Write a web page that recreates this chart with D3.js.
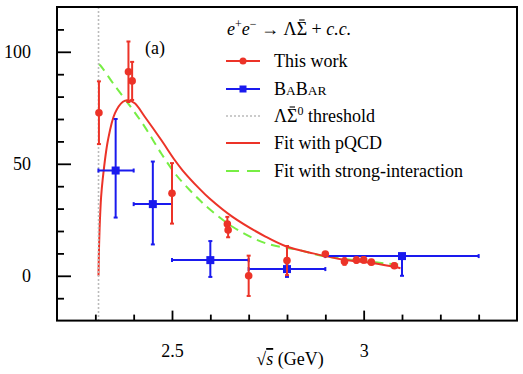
<!DOCTYPE html>
<html>
<head>
<meta charset="utf-8">
<script src="https://cdn.jsdelivr.net/npm/d3@7"></script>
<style>
  body { margin: 0; background: #fff; }
  text { font-family: "Liberation Serif", "DejaVu Serif", serif; fill: #000; }
</style>
</head>
<body>
<svg id="chart" width="523" height="374"></svg>
<script>
// measured points, "This work"
var workX = [2.3094, 2.3864, 2.3960, 2.5000, 2.6444, 2.6464, 2.7000, 2.8000, 2.9000, 2.9500, 2.9810, 3.0000, 3.0200, 3.0800];
var workY = [72.8, 91.1, 87.0, 36.8, 23.1, 20.4, 0.0, 6.8, 9.7, 6.4, 7.0, 7.1, 6.1, 4.5];
var workErr = [14, 13.5, 8.5, 13.5, 3.2, 3.2, 9, 6.5, 0.8, 1.5, 1.2, 1.2, 1.0, 1.0];

// BaBar points with bins
var babarX = [2.353, 2.45, 2.6, 2.8, 3.1];
var babarLo = [2.308, 2.4, 2.5, 2.7, 2.9];
var babarHi = [2.4, 2.5, 2.7, 2.9, 3.3];
var babarY = [47, 32, 7, 3, 8.8];
var babarErrDown = [21, 18, 7.5, 3.5, 8.8];
var babarErrUp = [23, 19, 8.5, 2.5, 0.5];

// fit curves
var pqcdX = [2.3083, 2.309, 2.310, 2.312, 2.315, 2.319, 2.333, 2.351, 2.372, 2.385, 2.403, 2.429, 2.472, 2.507, 2.528, 2.572, 2.598, 2.658, 2.745, 2.797, 2.868, 2.944, 3.031, 3.079, 3.096];
var pqcdY = [0, 8, 15, 25, 35, 42.7, 60.6, 72.5, 77.7, 78.4, 77, 71, 60.6, 51.7, 47, 38.8, 34.5, 26.3, 17.4, 13.2, 10, 7.3, 5.5, 4.0, 3.4];
var strongX = [2.3083, 2.312, 2.351, 2.394, 2.429, 2.472, 2.511, 2.546, 2.572, 2.593, 2.658, 2.745, 2.832, 2.884, 2.944, 3.031, 3.09];
var strongY = [94.5, 94.1, 84.8, 75, 66.5, 54.6, 45, 38.3, 33.8, 30.5, 21.9, 14.5, 11.5, 9.2, 7.6, 6.0, 5.0];

var threshold = 2.3083;
var xMajor = [2.5, 3];
var xMinor = [2.3, 2.4, 2.6, 2.7, 2.8, 2.9, 3.1, 3.2, 3.3];
var yMajor = [0, 50, 100];
var yMinor = [-10, 10, 20, 30, 40, 60, 70, 80, 90, 110];

var red = "#ec3328", blue = "#1a1aee", green = "#77ee44";

var svg = d3.select("#chart");
var x = d3.scaleLinear().domain([2.2, 3.4]).range([57, 517]);
var y = d3.scaleLinear().domain([-20, 120]).range([320.6, 7]);

var line = d3.line().x(d => x(d[0])).y(d => y(d[1])).curve(d3.curveCatmullRom.alpha(0.5));

// fit curves
svg.append("path")
  .attr("d", line(strongX.map((v, i) => [v, strongY[i]])))
  .attr("fill", "none").attr("stroke", green).attr("stroke-width", 2)
  .attr("stroke-dasharray", "9,6");
svg.append("path")
  .attr("d", line(pqcdX.map((v, i) => [v, pqcdY[i]])))
  .attr("fill", "none").attr("stroke", red).attr("stroke-width", 2);

// threshold
svg.append("line")
  .attr("x1", x(threshold)).attr("x2", x(threshold))
  .attr("y1", y(120)).attr("y2", y(-20))
  .attr("stroke", "#bbb").attr("stroke-width", 1.6).attr("stroke-dasharray", "2,2");

// BaBar
var bb = svg.append("g");
babarX.forEach(function(v, i) {
  var g = bb.append("g").attr("stroke", blue).attr("stroke-width", 2);
  g.append("line").attr("x1", x(babarLo[i])).attr("x2", x(babarHi[i])).attr("y1", y(babarY[i])).attr("y2", y(babarY[i]));
  g.append("line").attr("x1", x(v)).attr("x2", x(v)).attr("y1", y(babarY[i] - babarErrDown[i])).attr("y2", y(babarY[i] + babarErrUp[i]));
  [babarLo[i], babarHi[i]].forEach(function(e) {
    g.append("line").attr("x1", x(e)).attr("x2", x(e)).attr("y1", y(babarY[i]) - 2).attr("y2", y(babarY[i]) + 2);
  });
  [babarY[i] - babarErrDown[i], babarY[i] + babarErrUp[i]].forEach(function(e) {
    g.append("line").attr("x1", x(v) - 2).attr("x2", x(v) + 2).attr("y1", y(e)).attr("y2", y(e));
  });
  bb.append("rect").attr("x", x(v) - 4).attr("y", y(babarY[i]) - 4)
    .attr("width", 8).attr("height", 8).attr("fill", blue);
});

// This work
var tw = svg.append("g");
workX.forEach(function(v, i) {
  var g = tw.append("g").attr("stroke", red).attr("stroke-width", 2);
  g.append("line").attr("x1", x(v)).attr("x2", x(v))
    .attr("y1", y(workY[i] - workErr[i])).attr("y2", y(workY[i] + workErr[i]));
  [workY[i] - workErr[i], workY[i] + workErr[i]].forEach(function(e) {
    g.append("line").attr("x1", x(v) - 2).attr("x2", x(v) + 2).attr("y1", y(e)).attr("y2", y(e));
  });
  tw.append("circle").attr("cx", x(v)).attr("cy", y(workY[i])).attr("r", 3.8).attr("fill", red);
});

// frame and ticks
svg.append("rect").attr("x", 57).attr("y", 7).attr("width", 460).attr("height", 313.6)
  .attr("fill", "none").attr("stroke", "#000").attr("stroke-width", 2);

function ticks(g, ax) { g.call(ax); g.select(".domain").remove(); g.selectAll("line").attr("stroke", "#000").attr("stroke-width", 1.8); }

svg.append("g").attr("transform", "translate(57,0)")
  .call(g => ticks(g, d3.axisLeft(y).tickValues(yMinor).tickSize(-7).tickFormat("")));
svg.append("g").attr("transform", "translate(57,0)")
  .call(g => ticks(g, d3.axisLeft(y).tickValues(yMajor).tickSize(-14).tickPadding(26).tickFormat(d3.format("d"))));
svg.append("g").attr("transform", "translate(0,320.6)")
  .call(g => ticks(g, d3.axisBottom(x).tickValues(xMinor).tickSize(-6).tickFormat("")));
svg.append("g").attr("transform", "translate(0,320.6)")
  .call(g => ticks(g, d3.axisBottom(x).tickValues(xMajor).tickSize(-10).tickPadding(24).tickFormat(d3.format("~g"))));
svg.selectAll(".tick text").attr("font-family", "Liberation Serif").attr("font-size", 18).attr("fill", "#000");

// axis title
var xt = svg.append("text").attr("x", 290).attr("y", 365).attr("text-anchor", "middle").attr("font-size", 18);
xt.append("tspan").text("\u221A");
xt.append("tspan").attr("font-style", "italic").attr("text-decoration", "overline").text("s");
xt.append("tspan").text(" (GeV)");

svg.append("text").attr("x", 145).attr("y", 54).attr("font-size", 18).text("(a)");

// bar over a Sigma tspan
function macron(ts, baseY) {
  var e = ts.node().getExtentOfChar(0);
  svg.append("line").attr("x1", e.x + 2.5).attr("x2", e.x + e.width - 2.5)
    .attr("y1", baseY - 15).attr("y2", baseY - 15).attr("stroke", "#000").attr("stroke-width", 1.1);
}

// legend
var title = svg.append("text").attr("x", 227).attr("y", 35).attr("font-size", 18);
title.append("tspan").attr("font-style", "italic").text("e");
title.append("tspan").attr("font-size", 12).attr("dy", -7).text("+");
title.append("tspan").attr("font-style", "italic").attr("dy", 7).text("e");
title.append("tspan").attr("font-size", 12).attr("dy", -7).text("\u2212");
title.append("tspan").attr("dy", 7).text(" \u2192 \u039B");
var sig1 = title.append("tspan").text("\u03A3");
title.append("tspan").text(" + ");
title.append("tspan").attr("font-style", "italic").text("c.c.");
macron(sig1, 35);

var legY = [61, 89, 116, 143, 171];
var lx1 = 226, lx2 = 260, ltx = 274;

svg.append("line").attr("x1", lx1).attr("x2", lx2).attr("y1", legY[0]).attr("y2", legY[0]).attr("stroke", red).attr("stroke-width", 2);
svg.append("circle").attr("cx", 243).attr("cy", legY[0]).attr("r", 3.5).attr("fill", red);
svg.append("text").attr("x", ltx).attr("y", legY[0] + 6).attr("font-size", 18).text("This work");

svg.append("line").attr("x1", lx1).attr("x2", lx2).attr("y1", legY[1]).attr("y2", legY[1]).attr("stroke", blue).attr("stroke-width", 2);
svg.append("rect").attr("x", 239.5).attr("y", legY[1] - 3.5).attr("width", 7).attr("height", 7).attr("fill", blue);
var bt = svg.append("text").attr("x", ltx).attr("y", legY[1] + 6).attr("font-size", 18);
bt.append("tspan").text("B");
bt.append("tspan").attr("font-size", 13.5).text("A");
bt.append("tspan").text("B");
bt.append("tspan").attr("font-size", 13.5).text("AR");

svg.append("line").attr("x1", lx1).attr("x2", lx2).attr("y1", legY[2]).attr("y2", legY[2]).attr("stroke", "#bbb").attr("stroke-width", 1.5).attr("stroke-dasharray", "2,2");
var th = svg.append("text").attr("x", ltx).attr("y", legY[2] + 6).attr("font-size", 18);
th.append("tspan").text("\u039B");
var sig2 = th.append("tspan").text("\u03A3");
th.append("tspan").attr("font-size", 12).attr("dy", -7).text("0");
th.append("tspan").attr("dy", 7).text(" threshold");
macron(sig2, legY[2] + 6);

svg.append("line").attr("x1", lx1).attr("x2", lx2).attr("y1", legY[3]).attr("y2", legY[3]).attr("stroke", red).attr("stroke-width", 2);
svg.append("text").attr("x", ltx).attr("y", legY[3] + 6).attr("font-size", 18).text("Fit with pQCD");

svg.append("line").attr("x1", lx1).attr("x2", lx2).attr("y1", legY[4]).attr("y2", legY[4]).attr("stroke", green).attr("stroke-width", 2).attr("stroke-dasharray", "13,8");
svg.append("text").attr("x", ltx).attr("y", legY[4] + 6).attr("font-size", 18).text("Fit with strong-interaction");
</script>
</body>
</html>
